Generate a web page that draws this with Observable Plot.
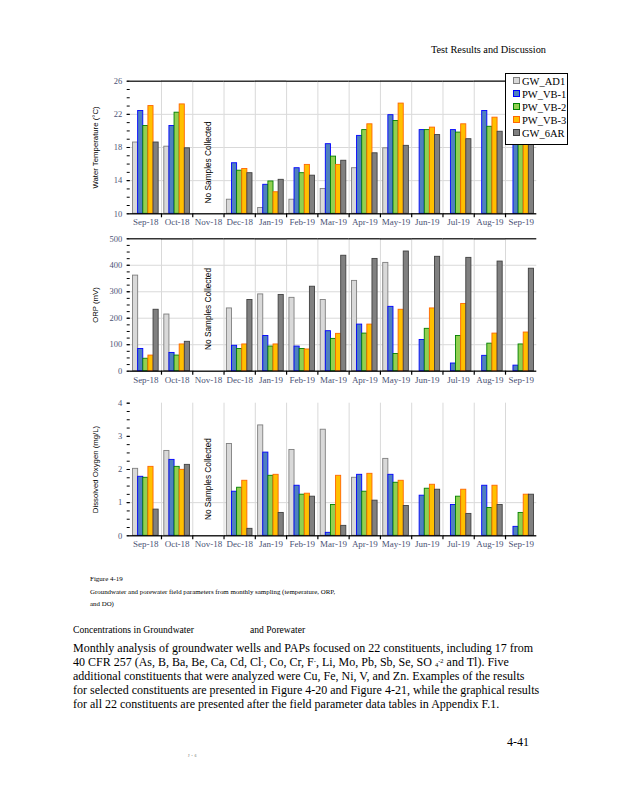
<!DOCTYPE html>
<html>
<head>
<meta charset="utf-8">
<script src="https://cdn.jsdelivr.net/npm/d3@7"></script>
<script src="https://cdn.jsdelivr.net/npm/@observablehq/plot@0.6"></script>
<style>
  html, body { margin: 0; padding: 0; background: #fff; }
  #page { position: relative; width: 618px; height: 800px; overflow: hidden; background: #fff;
          font-family: "Liberation Serif", "Times New Roman", serif; color: #000; }
  .abs { position: absolute; white-space: nowrap; }
  .plotbox { position: absolute; left: 0; }
  #legend { position: absolute; left: 505px; top: 73px; width: 61px; height: 70px; background: #fff;
            border: 1px solid #000; z-index: 5; font-family: "Liberation Serif", serif; font-size: 10.5px; }
  #legend .row { position: absolute; left: 7px; height: 12px; line-height: 12px; }
  #legend .sw { display: inline-block; width: 5px; height: 5px; border-width: 1px; border-style: solid;
                vertical-align: 1px; margin-right: 2px; }
  .lo { font-size: 6.5px; vertical-align: -1px; line-height: 0; }
  .hi { font-size: 6.5px; vertical-align: 3px; line-height: 0; }
</style>
</head>
<body>
<div id="page"></div>
<script>
// ---------- data ----------
const months = ["Sep-18","Oct-18","Nov-18","Dec-18","Jan-19","Feb-19","Mar-19","Apr-19","May-19","Jun-19","Jul-19","Aug-19","Sep-19"];
const series = ["GW_AD1","PW_VB-1","PW_VB-2","PW_VB-3","GW_6AR"];
const fills   = ["#d9d9d9","#4f81bd","#92d050","#ffc000","#808080"];
const strokes = ["#7f7f7f","#0000ff","#008000","#ff6600","#404040"];
const noSampleMonth = "Nov-18";

// Water temperature (°C); null = not sampled
const tempAD1 = [18.6,18.1,null,11.7,10.7,11.7,13.0,15.5,17.9,null,null,null,null];
const tempVB1 = [22.4,20.6,null,16.1,13.5,15.5,18.4,19.4,21.9,20.1,20.1,22.4,20.9];
const tempVB2 = [20.6,22.2,null,15.2,13.9,14.9,16.9,20.1,21.2,20.1,19.8,20.5,20.3];
const tempVB3 = [23.0,23.2,null,15.4,12.6,15.9,15.9,20.8,23.3,20.4,20.8,21.6,21.1];
const temp6AR = [18.6,17.9,null,14.9,14.1,14.6,16.4,17.3,18.2,19.5,19.0,19.9,19.6];

// ORP (mV)
const orpAD1 = [361,214,null,237,290,277,269,341,409,null,null,null,null];
const orpVB1 = [84,69,null,96,133,93,151,176,243,118,29,58,21];
const orpVB2 = [47,59,null,84,93,84,122,142,65,160,133,104,101];
const orpVB3 = [59,101,null,101,101,82,141,176,232,237,254,142,146];
const orp6AR = [232,111,null,269,288,319,436,424,452,432,428,414,387];

// Dissolved oxygen (mg/L)
const doAD1 = [2.02,2.56,null,2.77,3.33,2.59,3.20,1.75,2.32,null,null,null,null];
const doVB1 = [1.78,2.29,null,1.33,2.51,1.51,0.09,1.84,1.84,1.21,0.93,1.51,0.27];
const doVB2 = [1.75,2.08,null,1.45,1.81,1.24,0.93,1.33,1.60,1.42,1.18,0.84,0.69];
const doVB3 = [2.08,1.99,null,1.66,1.84,1.27,1.81,1.87,1.66,1.54,1.39,1.51,1.24];
const do6AR = [0.79,2.14,null,0.21,0.69,1.18,0.30,1.06,0.90,1.39,0.66,0.93,1.24];

// axis ticks
const tempTicks = [10,14,18,22,26];
const orpTicks  = [0,100,200,300,400,500];
const doTicks   = [0,1,2,3,4];

// ---------- helpers ----------
function tidy(arrays) {
  const rows = [];
  arrays.forEach((arr, si) => arr.forEach((v, mi) => {
    if (v != null) rows.push({month: months[mi], series: series[si], value: v});
  }));
  return rows;
}
function minorTicks(major) {
  const step = (major[1] - major[0]) / 4, out = [];
  for (let v = major[0]; v <= major[major.length - 1] + 1e-9; v += step) out.push(+v.toFixed(6));
  return out;
}

const page = document.getElementById("page");
const LEFT = 129.7, RIGHT = 536.3, W = 618;
const facetW = (RIGHT - LEFT) / months.length;
const padOuter = 0.55;
const step = facetW / (series.length + 2 * padOuter);
const tickColor = "#4a5274";

function chart(cfg) {
  const rows = tidy(cfg.arrays);
  const base = cfg.ticks[0], top = cfg.ticks[cfg.ticks.length - 1];
  const plotH = cfg.plotH;
  const marks = [
    Plot.ruleY(cfg.grid, {y: d => d, stroke: "#d9d9d9", strokeWidth: 1}),
    Plot.ruleX(months.slice(1), {fx: d => d, x: () => series[0], dx: -cfg.dxGrid, stroke: "#d9d9d9", strokeWidth: 1}),
  ];
  if (cfg.topBlack) marks.push(Plot.ruleY([top], {stroke: "#000", strokeWidth: 1.2}));
  series.forEach((s, i) => {
    marks.push(Plot.barY(rows.filter(d => d.series === s), {
      fx: "month", x: "series", y1: base, y2: "value",
      fill: fills[i], stroke: strokes[i], strokeWidth: 0.9
    }));
  });
  marks.push(
    Plot.ruleY([base], {stroke: "#000", strokeWidth: 1.3}),
    Plot.ruleX(months.slice(1), {fx: d => d, x: () => series[0], dx: -cfg.dxGrid, stroke: "#000", strokeWidth: 1.2, insetTop: plotH, insetBottom: -4}),
    Plot.axisY({ticks: minorTicks(cfg.ticks), tickSize: 3, tickFormat: () => "", label: null, stroke: "#000"}),
    Plot.axisY({ticks: cfg.ticks, tickSize: 3, tickPadding: 5, label: null, stroke: "#000", fill: tickColor,
                tickFormat: d => String(d), fontSize: 8.5, fontFamily: "Liberation Serif"}),
    Plot.axisFx({anchor: "bottom", tickSize: 0, tickPadding: 5, label: null, fill: tickColor, fontSize: 9,
                 fontFamily: "Liberation Serif"}),
    Plot.text([{m: noSampleMonth}], {fx: "m", y: cfg.noteY, text: () => "No Samples Collected", rotate: -90,
               textAnchor: "middle", fontFamily: "Liberation Sans", fontSize: 8.3, fill: "#000"}),
    Plot.text([{m: months[0]}], {fx: "m", frameAnchor: "left", dx: -35, rotate: -90, text: () => cfg.title,
               textAnchor: "middle", fontFamily: "Liberation Sans", fontSize: 7.8, fill: "#000"})
  );
  const svg = Plot.plot({
    width: W, height: cfg.marginTop + plotH + 22,
    marginLeft: LEFT, marginRight: W - RIGHT, marginTop: cfg.marginTop, marginBottom: 22,
    fx: {domain: months, padding: 0, round: false, label: null},
    x: {domain: series, paddingInner: 0, paddingOuter: padOuter, round: false, axis: null},
    y: {domain: [base, top], label: null},
    style: {background: "transparent", overflow: "visible", fontFamily: "Liberation Serif", fontSize: "9px", color: "#000"},
    marks
  });
  const box = document.createElement("div");
  box.className = "plotbox";
  box.style.top = cfg.top + "px";
  box.appendChild(svg);
  page.appendChild(box);
}

const DX = step * (padOuter + 0.5);
chart({arrays: [tempAD1,tempVB1,tempVB2,tempVB3,temp6AR], ticks: tempTicks, grid: [14,18,22], topBlack: true,
       title: "Water Temperature (°C)", noteY: 16.2, top: 66, marginTop: 14.7, plotH: 132.6, dxGrid: DX});
chart({arrays: [orpAD1,orpVB1,orpVB2,orpVB3,orp6AR], ticks: orpTicks, grid: [100,200,300,400], topBlack: true,
       title: "ORP (mV)", noteY: 235, top: 226, marginTop: 12.3, plotH: 132.4, dxGrid: DX});
chart({arrays: [doAD1,doVB1,doVB2,doVB3,do6AR], ticks: doTicks, grid: [1], topBlack: false,
       title: "Dissolved Oxygen (mg/L)", noteY: 1.71, top: 390, marginTop: 12.7, plotH: 132.6, dxGrid: DX});

// ---------- legend ----------
const legend = document.createElement("div");
legend.id = "legend";
series.forEach((s, i) => {
  const r = document.createElement("div");
  r.className = "row";
  r.style.top = (2 + i * 13.1) + "px";
  const sw = document.createElement("span");
  sw.className = "sw";
  sw.style.background = fills[i];
  sw.style.borderColor = strokes[i];
  r.appendChild(sw);
  r.appendChild(document.createTextNode(s));
  legend.appendChild(r);
});
page.appendChild(legend);

// ---------- page text ----------
function addText(html, style) {
  const d = document.createElement("div");
  d.className = "abs";
  d.innerHTML = html;
  Object.assign(d.style, style);
  page.appendChild(d);
  return d;
}
addText("Test Results and Discussion", {right: "72px", top: "44px", fontSize: "10.3px"});
addText("Figure 4-19", {left: "90px", top: "575px", fontSize: "7px"});
addText("Groundwater and porewater field parameters from monthly sampling (temperature, ORP,", {left: "90px", top: "588px", fontSize: "6.9px"});
addText("and DO)", {left: "90px", top: "600px", fontSize: "6.9px"});
addText("Concentrations in Groundwater", {left: "73px", top: "624px", fontSize: "9.6px"});
addText("and Porewater", {left: "250px", top: "624px", fontSize: "9.6px"});
const lines = [
  "Monthly analysis of groundwater wells and PAPs focused on 22 constituents, including 17 from",
  "40 CFR 257 (As, B, Ba, Be, Ca, Cd, Cl<span class='hi'>-</span>, Co, Cr, F<span class='hi'>-</span>, Li, Mo, Pb, Sb, Se, SO <span class='lo'>4</span><span class='hi'>-2</span> and Tl). Five",
  "additional constituents that were analyzed were Cu, Fe, Ni, V, and Zn. Examples of the results",
  "for selected constituents are presented in Figure 4-20 and Figure 4-21, while the graphical results",
  "for all 22 constituents are presented after the field parameter data tables in Appendix F.1."
];
lines.forEach((l, i) => {
  addText(l, {left: "73px", top: (642 + i * 13.9) + "px", fontSize: "12px", lineHeight: "13px"});
});
addText("4-41", {left: "507px", top: "735px", fontSize: "12px"});
addText("ᴶ · ⁶", {left: "188px", top: "753px", fontSize: "6px", color: "#555"});
</script>
</body>
</html>
